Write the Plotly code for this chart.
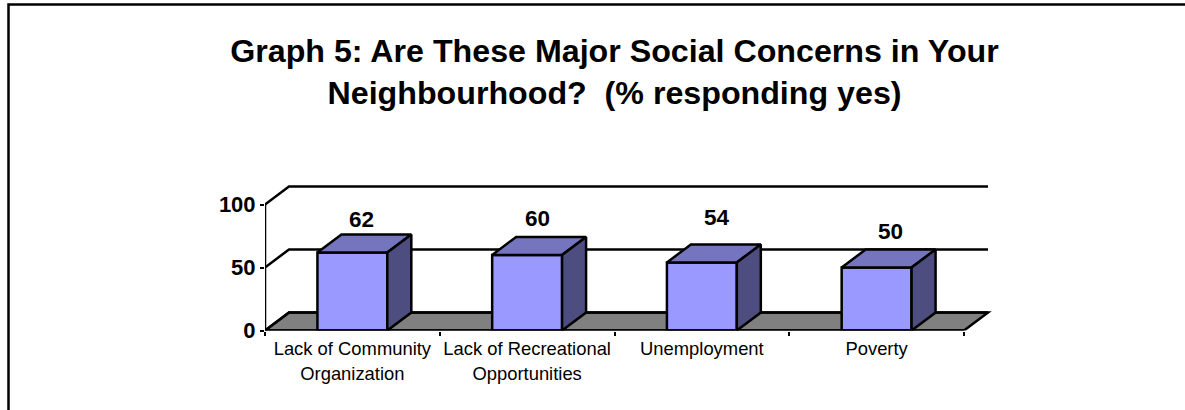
import plotly.graph_objects as go

# Chart data
title_lines = ["Graph 5: Are These Major Social Concerns in Your",
               "Neighbourhood?\u00a0\u00a0(% responding yes)"]
category_line1 = ["Lack of Community", "Lack of Recreational", "Unemployment", "Poverty"]
category_line2 = ["Organization", "Opportunities", "", ""]
values = [62, 60, 54, 50]
y_ticks = [0, 50, 100]

# Page and plot geometry, in pixels
W, H = 1185, 410
AXIS_LEFT, AXIS_RIGHT = 265.0, 964.0
AXIS_BASE, AXIS_TOP = 330.5, 204.5
DEPTH_PX_X, DEPTH_PX_Y = 24.0, 18.0
PAD_TOP, PAD_RIGHT = 4.0, 6.0

# Data units per pixel along each axis
n = len(values)
cat_px = (AXIS_RIGHT - AXIS_LEFT) / n
val_px = (AXIS_BASE - AXIS_TOP) / 100.0
dx = DEPTH_PX_X / cat_px
dy = DEPTH_PX_Y / val_px
bar_width = 0.4
x_lo, x_hi = 0.5, n + 0.5
y_hi = 100 + dy + PAD_TOP / val_px
x_end = x_hi + dx + PAD_RIGHT / cat_px
plot_right = AXIS_RIGHT + DEPTH_PX_X + PAD_RIGHT
plot_top = AXIS_BASE - y_hi * val_px

# Value label nudges, in pixels, relative to the bar's front top edge
label_dx = [9, 10, 15, 14]
label_dy = [33, 36, 45, 36]

FONT = "Liberation Sans, Arial, sans-serif"
INK = "#000000"
FRONT, TOP, SIDE, FLOOR = "#9999FF", "#7575BF", "#4D4D80", "#808080"
LW = 2.5

centers = [i + 1 for i in range(n)]
boundaries = [i + 0.5 for i in range(n + 1)]

fig = go.Figure()

# Front faces of the columns
fig.add_bar(x=centers, y=values, width=bar_width,
            marker=dict(color=FRONT, line=dict(color=INK, width=LW)),
            hoverinfo="skip", showlegend=False)

# Top and side faces, offset by the chart depth
for c, v in zip(centers, values):
    l, r = c - bar_width / 2, c + bar_width / 2
    fig.add_scatter(x=[l, r, r + dx, l + dx, l], y=[v, v, v + dy, v + dy, v],
                    mode="lines", fill="toself", fillcolor=TOP,
                    line=dict(color=INK, width=LW), cliponaxis=False,
                    hoverinfo="skip", showlegend=False)
    fig.add_scatter(x=[r, r + dx, r + dx, r, r], y=[0, dy, v + dy, v, 0],
                    mode="lines", fill="toself", fillcolor=SIDE,
                    line=dict(color=INK, width=LW), cliponaxis=False,
                    hoverinfo="skip", showlegend=False)

# Front edges of the axes
fig.add_scatter(x=[x_lo, x_lo], y=[0, 100], mode="lines",
                line=dict(color=INK, width=LW), cliponaxis=False,
                hoverinfo="skip", showlegend=False)
fig.add_scatter(x=[x_lo, x_hi], y=[0, 0], mode="lines", xaxis="x2",
                line=dict(color=INK, width=LW), cliponaxis=False,
                hoverinfo="skip", showlegend=False)

# Floor and wall gridlines sit behind the columns
shapes = [dict(type="path", layer="below", xref="x", yref="y",
               path=f"M {x_lo},0 L {x_lo + dx},{dy} L {x_hi + dx},{dy} L {x_hi},0 Z",
               fillcolor=FLOOR, line=dict(color=INK, width=LW))]
for t in y_ticks:
    shapes.append(dict(type="path", layer="below", xref="x", yref="y",
                       path=f"M {x_lo},{t} L {x_lo + dx},{t + dy} L {x_hi + dx},{t + dy}",
                       line=dict(color=INK, width=LW)))

# Outer chart frame, open at the right and bottom
shapes.append(dict(type="path", xref="paper", yref="paper",
                   path=f"M {8.5 / W},0 L {8.5 / W},{1 - 4.5 / H} L 1,{1 - 4.5 / H}",
                   line=dict(color=INK, width=LW)))

annotations = [dict(x=c, y=v, xref="x", yref="y", text=f"<b>{v}</b>", showarrow=False,
                    xshift=sx, yshift=sy, font=dict(family=FONT, size=22.5, color=INK))
               for c, v, sx, sy in zip(centers, values, label_dx, label_dy)]

x_domain = [AXIS_LEFT / W, plot_right / W]
x_range = [x_lo, x_end]

fig.update_layout(
    width=W, height=H,
    margin=dict(l=0, r=0, t=0, b=0, autoexpand=False),
    paper_bgcolor="#FFFFFF", plot_bgcolor="rgba(0,0,0,0)",
    showlegend=False,
    font=dict(family=FONT, color=INK),
    title=dict(text="<b>" + "<br>".join(title_lines) + "</b>",
               x=614.5 / W, xanchor="center", xref="paper",
               y=1 - 62 / H, yanchor="top", yref="paper",
               font=dict(family=FONT, size=32.2, color=INK)),
    xaxis=dict(domain=x_domain, range=x_range, showgrid=False, zeroline=False,
               showline=False, anchor="y", side="bottom", automargin=False,
               tickmode="array", tickvals=centers, ticktext=category_line1,
               ticks="", ticklabelstandoff=5,
               tickfont=dict(family=FONT, size=18.4, color=INK),
               minor=dict(tickmode="array", tickvals=boundaries, ticks="outside",
                          ticklen=4, tickwidth=2, tickcolor=INK, showgrid=False)),
    xaxis2=dict(domain=x_domain, range=x_range, overlaying="x", anchor="y", side="bottom",
                showgrid=False, zeroline=False, showline=False, automargin=False,
                tickmode="array", tickvals=centers, ticktext=category_line2,
                ticks="", ticklabelstandoff=30,
                tickfont=dict(family=FONT, size=18.4, color=INK)),
    yaxis=dict(domain=[1 - AXIS_BASE / H, 1 - plot_top / H], range=[0, y_hi],
               showgrid=False, zeroline=False, showline=False, automargin=False,
               tickmode="array", tickvals=y_ticks,
               ticks="outside", ticklen=4, tickwidth=2, tickcolor=INK,
               tickfont=dict(family=FONT, size=22, color=INK, weight="bold")),
    shapes=shapes,
    annotations=annotations,
)

fig.write_html("out.html")
